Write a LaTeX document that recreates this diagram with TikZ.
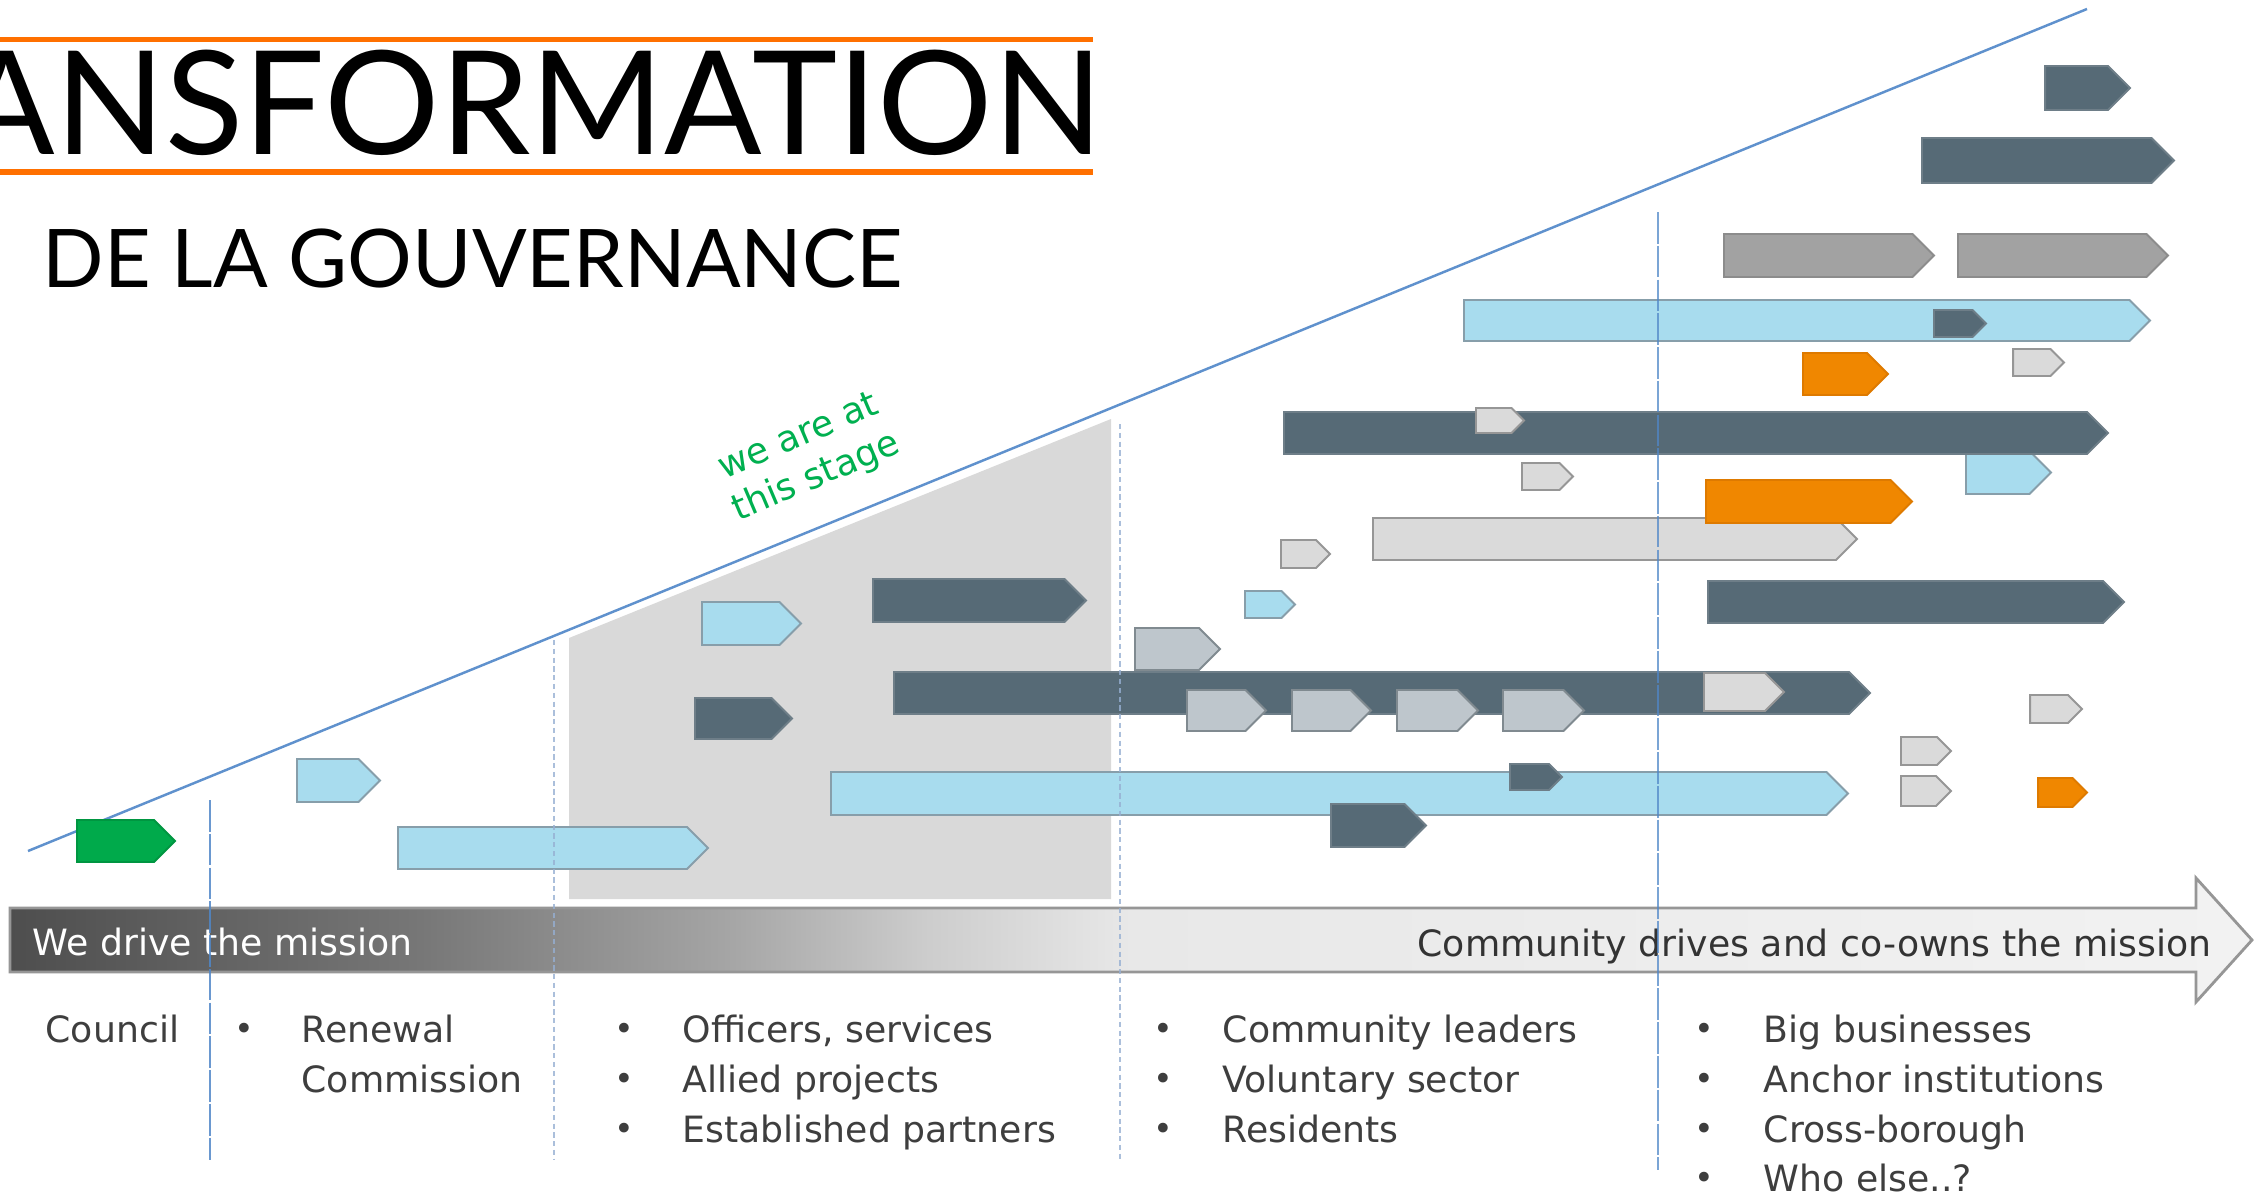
\documentclass[tikz,border=0pt]{standalone}
\usepackage{fontspec}
\setmainfont{DejaVu Sans}
\newfontfamily\latofont{Lato}
\definecolor{titleorange}{RGB}{255,112,0}
\definecolor{slopeblue}{RGB}{95,145,205}
\definecolor{divblue}{RGB}{80,135,200}
\definecolor{divlight}{RGB}{150,175,210}
\definecolor{stagegray}{RGB}{217,217,217}
\definecolor{stagegreen}{RGB}{0,176,80}
\definecolor{lbfill}{RGB}{168,220,238}
\definecolor{lbline}{RGB}{135,158,170}
\definecolor{dkfill}{RGB}{86,106,118}
\definecolor{dkline}{RGB}{110,126,136}
\definecolor{lgfill}{RGB}{218,218,218}
\definecolor{lgline}{RGB}{150,150,150}
\definecolor{mgfill}{RGB}{162,162,162}
\definecolor{mgline}{RGB}{140,140,140}
\definecolor{sgfill}{RGB}{190,198,204}
\definecolor{sgline}{RGB}{128,138,144}
\definecolor{orfill}{RGB}{240,135,0}
\definecolor{orline}{RGB}{222,122,0}
\definecolor{grfill}{RGB}{0,170,75}
\definecolor{grline}{RGB}{0,150,65}
\definecolor{listtext}{RGB}{62,62,62}
\definecolor{bandA}{RGB}{78,78,78}
\definecolor{bandB}{RGB}{118,118,118}
\definecolor{bandC}{RGB}{165,165,165}
\definecolor{bandD}{RGB}{205,205,205}
\definecolor{bandE}{RGB}{232,232,232}
\definecolor{bandF}{RGB}{242,242,242}
\pgfdeclarehorizontalshading{bandshade}{100bp}{%
  color(0bp)=(bandA); color(25bp)=(bandA); color(34bp)=(bandB);
  color(41bp)=(bandC); color(45.5bp)=(bandD); color(50bp)=(bandE);
  color(75bp)=(bandF); color(100bp)=(bandF)}
% chevron bar: style, left x, right x, top y, bottom y
\newcommand{\chev}[5]{%
  \pgfmathsetmacro\chevtip{#3-0.5*(#5-#4)}%
  \pgfmathsetmacro\chevmid{0.5*(#4+#5)}%
  \draw[#1] (#2,#4) -- (\chevtip,#4) -- (#3,\chevmid) -- (\chevtip,#5) -- (#2,#5) -- cycle;}
\tikzset{
  bar/.style={line width=0.55pt, line join=miter},
  lb/.style={bar, fill=lbfill, draw=lbline},
  dk/.style={bar, fill=dkfill, draw=dkline},
  lg/.style={bar, fill=lgfill, draw=lgline},
  mg/.style={bar, fill=mgfill, draw=mgline},
  sg/.style={bar, fill=sgfill, draw=sgline},
  og/.style={bar, fill=orfill, draw=orline},
  gn/.style={bar, fill=grfill, draw=grline},
  listitem/.style={anchor=base west, inner sep=0, text=listtext, font=\fontsize{10.3pt}{12pt}\selectfont},
  bulletmark/.style={anchor=base, inner sep=0, text=listtext, font=\fontsize{9.5pt}{10pt}\selectfont},
  divsolid/.style={divblue, line width=0.6pt, dash pattern=on 9pt off 0.6pt},
  divdots/.style={divlight, line width=0.5pt, dash pattern=on 1.5pt off 1pt},
}
\begin{document}
\begin{tikzpicture}[x=0.01cm,y=-0.01cm]
\useasboundingbox (0,0) rectangle (2255,1197);
\clip (0,0) rectangle (2255,1197);
\fill[white] (0,0) rectangle (2255,1197);

% title block
\draw[titleorange, line width=1.5pt] (0,39.5) -- (1093,39.5);
\draw[titleorange, line width=1.6pt] (0,172) -- (1093,172);
\node[anchor=base east, inner sep=0, font=\latofont\fontsize{41pt}{41pt}\selectfont] (title) at (1103,155) {TRANSFORMATION};
\node[anchor=base west, inner sep=0, font=\latofont\fontsize{23pt}{24pt}\selectfont] (subtitle) at (42,287) {DE LA GOUVERNANCE};

% current stage area under the slope
\fill[stagegray] (569,899) -- (569,638) -- (1111,419) -- (1111,899) -- cycle;

% rising slope
\coordinate (slopeA) at (28,851);
\coordinate (slopeB) at (2087,9);
\draw[slopeblue, line width=0.7pt] (slopeA) -- (slopeB);

\node[rotate=23, align=center, inner sep=0, text=stagegreen, font=\fontsize{10.3pt}{12.6pt}\selectfont] (stage) at (808,458) {we are at\\this stage};

% bars, back to front
\chev{gn}{77}{175}{820}{862}
\chev{lb}{297}{380}{759}{802}
\chev{lb}{398}{708}{827}{869}
\chev{lb}{702}{801}{602}{645}
\chev{dk}{873}{1086}{579}{622}
\chev{dk}{695}{792}{698}{739}
\chev{dk}{894}{1870}{672}{714}
\chev{lb}{831}{1848}{772}{815}
\chev{sg}{1135}{1220}{628}{670}
\chev{lb}{1464}{2150}{300}{341}
\chev{dk}{1934}{1986}{310}{337}
\chev{og}{1803}{1888}{353}{395}
\chev{lg}{2013}{2064}{349}{376}
\chev{mg}{1724}{1934}{234}{277}
\chev{mg}{1958}{2168}{234}{277}
\chev{dk}{1922}{2174}{138}{183}
\chev{dk}{2045}{2130}{66}{110}
\chev{lb}{1966}{2051}{451}{494}
\chev{dk}{1284}{2108}{412}{454}
\chev{lg}{1476}{1524}{408}{433}
\chev{lg}{1522}{1573}{463}{490}
\chev{lg}{1373}{1857}{518}{560}
\chev{og}{1706}{1912}{480}{523}
\chev{lg}{1281}{1330}{540}{568}
\chev{lb}{1245}{1295}{591}{618}
\chev{dk}{1708}{2124}{581}{623}
\chev{lg}{1704}{1784}{673}{711}
\chev{sg}{1187}{1266}{690}{731}
\chev{sg}{1292}{1371}{690}{731}
\chev{sg}{1397}{1478}{690}{731}
\chev{sg}{1503}{1584}{690}{731}
\chev{lg}{2030}{2082}{695}{723}
\chev{lg}{1901}{1951}{737}{765}
\chev{lg}{1901}{1951}{776}{806}
\chev{og}{2038}{2087}{778}{807}
\chev{dk}{1510}{1562}{764}{790}
\chev{dk}{1331}{1426}{804}{847}

% big direction arrow
\path[shading=bandshade, draw=lgline, line width=0.8pt, line join=miter]
  (10,908) -- (2196,908) -- (2196,878) -- (2252,940) -- (2196,1002) -- (2196,972) -- (10,972) -- cycle;
\node[anchor=base west, inner sep=0, text=white, font=\fontsize{10.3pt}{12pt}\selectfont] (wedrive) at (32,955) {We drive the mission};
\node[anchor=base east, inner sep=0, text=black!80, font=\fontsize{10.3pt}{12pt}\selectfont] (community) at (2212,956) {Community drives and co-owns the mission};

% phase dividers
\coordinate (d1t) at (210,800);  \coordinate (d1b) at (210,1160);
\coordinate (d2t) at (554,640);  \coordinate (d2b) at (554,1160);
\coordinate (d3t) at (1120,424); \coordinate (d3b) at (1120,1160);
\coordinate (d4t) at (1658,212); \coordinate (d4b) at (1658,1170);
\draw[divsolid, opacity=0.85] (d1t) -- (d1b);
\draw[divdots, opacity=0.8] (d2t) -- (d2b);
\draw[divdots, opacity=0.8] (d3t) -- (d3b);
\draw[divsolid, opacity=0.75] (d4t) -- (d4b);

% who drives each phase
\node[listitem] (council) at (45,1042) {Council};
\node[bulletmark] (b1) at (244,1040) {•};
\node[listitem] (renewal) at (301,1042) {Renewal};
\node[listitem] (commission) at (301,1092) {Commission};

\node[bulletmark] (b2a) at (624,1040) {•};
\node[bulletmark] (b2b) at (624,1090) {•};
\node[bulletmark] (b2c) at (624,1140) {•};
\node[listitem] (officers) at (682,1042) {Officers, services};
\node[listitem] (allied) at (682,1092) {Allied projects};
\node[listitem] (established) at (682,1142) {Established partners};

\node[bulletmark] (b3a) at (1163,1040) {•};
\node[bulletmark] (b3b) at (1163,1090) {•};
\node[bulletmark] (b3c) at (1163,1140) {•};
\node[listitem] (leaders) at (1222,1042) {Community leaders};
\node[listitem] (voluntary) at (1222,1092) {Voluntary sector};
\node[listitem] (residents) at (1222,1142) {Residents};

\node[bulletmark] (b4a) at (1704,1040) {•};
\node[bulletmark] (b4b) at (1704,1090) {•};
\node[bulletmark] (b4c) at (1704,1140) {•};
\node[bulletmark] (b4d) at (1704,1189) {•};
\node[listitem] (business) at (1763,1042) {Big businesses};
\node[listitem] (anchor) at (1763,1092) {Anchor institutions};
\node[listitem] (crossb) at (1763,1142) {Cross-borough};
\node[listitem] (whoelse) at (1763,1191) {Who else..?};
\end{tikzpicture}
\end{document}
